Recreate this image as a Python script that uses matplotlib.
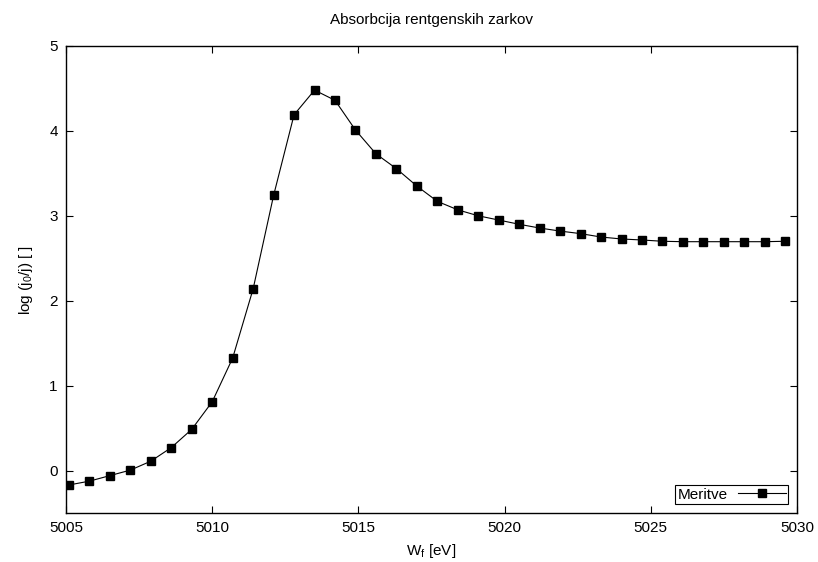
import matplotlib
matplotlib.use('Agg')
import matplotlib.pyplot as plt

plt.rcParams['font.family'] = ['Liberation Sans', 'DejaVu Sans']
plt.rcParams['mathtext.default'] = 'regular'

# Data
energy = [5005.1, 5005.8, 5006.5, 5007.2, 5007.9, 5008.6, 5009.3, 5010.0,
          5010.7, 5011.4, 5012.1, 5012.8, 5013.5, 5014.2, 5014.9, 5015.6,
          5016.3, 5017.0, 5017.7, 5018.4, 5019.1, 5019.8, 5020.5, 5021.2,
          5021.9, 5022.6, 5023.3, 5024.0, 5024.7, 5025.4, 5026.1, 5026.8,
          5027.5, 5028.2, 5028.9, 5029.6]
absorb = [-0.17, -0.125, -0.06, 0.005, 0.11, 0.27, 0.485, 0.81,
          1.325, 2.14, 3.24, 4.19, 4.48, 4.36, 4.01, 3.73,
          3.555, 3.35, 3.17, 3.07, 3.00, 2.95, 2.90, 2.856,
          2.82, 2.79, 2.75, 2.727, 2.715, 2.70, 2.695, 2.695,
          2.695, 2.695, 2.695, 2.70]

x_ticks = [5005, 5010, 5015, 5020, 5025, 5030]
y_ticks = [0, 1, 2, 3, 4, 5]

fig = plt.figure(figsize=(8.18, 5.62), dpi=100)
ax = fig.add_axes([0.0807, 0.0872, 0.8936, 0.8310])

# Graph
ax.plot(energy, absorb, color='black', linewidth=0.8, marker='s',
        markersize=5.5, label='Meritve')

# Axes
ax.set_xlim(5005, 5030)
ax.set_ylim(-0.5, 5)
ax.set_xticks(x_ticks)
ax.set_yticks(y_ticks)
ax.tick_params(direction='in', top=True, right=True, length=5, width=0.8,
               labelsize=11, pad=6)
for s in ax.spines.values():
    s.set_linewidth(1.0)

# Labels
ax.set_title('Absorbcija rentgenskih zarkov', fontsize=11, pad=16)
ax.set_xlabel('W$_{f}$ [eV]', fontsize=11, labelpad=5)
ax.set_ylabel('log (j$_{0}$/j) [ ]', fontsize=11, labelpad=10)

# Legend
leg = ax.legend(loc='lower right', markerfirst=False, fontsize=11,
                fancybox=False, framealpha=1, edgecolor='black',
                borderpad=0.15, handlelength=3.1, borderaxespad=0.6,
                handletextpad=0.7)
leg.get_frame().set_linewidth(0.8)

fig.savefig('out.png', dpi=100)
